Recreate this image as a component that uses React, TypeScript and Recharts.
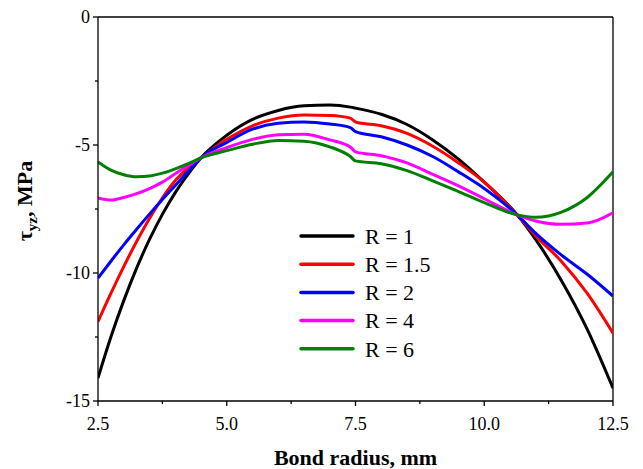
import { Legend, Line, LineChart, ReferenceLine, XAxis, YAxis } from "recharts";

const FONT = '"Liberation Serif", "Times New Roman", serif';

// bond radius, mm
const radius = [2.5, 2.75, 3.0, 3.25, 3.5, 3.75, 4.0, 4.25, 4.5, 5.0, 5.5, 6.0, 6.5, 7.0, 7.4, 7.5, 8.0, 8.5, 9.0, 9.5, 10.0, 10.64, 11.0, 11.5, 12.0, 12.5];

// tau_yz, MPa
const r1 = [-14.1, -12.5, -11.08, -9.81, -8.69, -7.71, -6.86, -6.14, -5.5, -4.62, -4.0, -3.65, -3.47, -3.44, -3.52, -3.56, -3.8, -4.2, -4.8, -5.55, -6.45, -7.73, -8.7, -10.3, -12.2, -14.5];
const r15 = [-11.9, -10.8, -9.75, -8.77, -7.87, -7.07, -6.39, -5.89, -5.5, -4.78, -4.25, -3.95, -3.83, -3.85, -3.95, -4.1, -4.25, -4.55, -5.05, -5.7, -6.45, -7.73, -8.55, -9.55, -10.8, -12.35];
const r2 = [-10.2, -9.54, -8.9, -8.29, -7.7, -7.13, -6.58, -6.03, -5.5, -4.9, -4.38, -4.15, -4.1, -4.18, -4.32, -4.48, -4.68, -5.0, -5.45, -6.05, -6.7, -7.73, -8.45, -9.3, -10.05, -10.9];
const r4 = [-7.07, -7.15, -7.05, -6.9, -6.7, -6.45, -6.12, -5.8, -5.5, -5.1, -4.78, -4.6, -4.58, -4.8, -5.08, -5.27, -5.42, -5.7, -6.15, -6.6, -7.1, -7.73, -7.97, -8.1, -8.05, -7.65];
const r6 = [-5.66, -5.98, -6.16, -6.24, -6.21, -6.1, -5.93, -5.73, -5.5, -5.22, -4.97, -4.82, -4.85, -5.07, -5.45, -5.62, -5.73, -6.0, -6.4, -6.82, -7.25, -7.73, -7.82, -7.62, -7.05, -6.05];

const xTicks = [2.5, 3.75, 5, 6.25, 7.5, 8.75, 10, 11.25, 12.5];
const yTicks = [-15, -12.5, -10, -7.5, -5, -2.5, 0];

const series = [
  { key: "r1", name: "R = 1", color: "#000000" },
  { key: "r15", name: "R = 1.5", color: "#ff0000" },
  { key: "r2", name: "R = 2", color: "#0000ff" },
  { key: "r4", name: "R = 4", color: "#ff00ff" },
  { key: "r6", name: "R = 6", color: "#008000" },
];

const data = radius.map((x, i) => ({ x, r1: r1[i], r15: r15[i], r2: r2[i], r4: r4[i], r6: r6[i] }));

function XTick({ x, y, payload }: any) {
  const major = Math.abs(payload.value / 2.5 - Math.round(payload.value / 2.5)) < 1e-6;
  return (
    <g>
      <line x1={x} x2={x} y1={y} y2={y + (major ? 5 : 3)} stroke="#000" strokeWidth={1.3} />
      {major && (
        <text x={x} y={y + 29} textAnchor="middle" fontFamily={FONT} fontSize={18} fill="#000">
          {payload.value.toFixed(1)}
        </text>
      )}
    </g>
  );
}

function YTick({ x, y, payload }: any) {
  const major = payload.value % 5 === 0;
  return (
    <g>
      <line x1={x} x2={x - (major ? 5 : 3)} y1={y} y2={y} stroke="#000" strokeWidth={1.3} />
      {major && (
        <text x={x - 8} y={y} dy="0.35em" textAnchor="end" fontFamily={FONT} fontSize={18} fill="#000">
          {payload.value}
        </text>
      )}
    </g>
  );
}

function YLabel() {
  return (
    <text x={32} y={201} transform="rotate(-90, 32, 201)" textAnchor="middle" fontFamily={FONT} fontWeight="bold" fontSize={22} fill="#000">
      <tspan>τ</tspan>
      <tspan fontSize={15} dy={5}>yz</tspan>
      <tspan dy={-5}>, MPa</tspan>
    </text>
  );
}

function XLabel() {
  return (
    <text x={355.5} y={465} textAnchor="middle" fontFamily={FONT} fontWeight="bold" fontSize={22} fill="#000">
      Bond radius, mm
    </text>
  );
}

function LegendBox() {
  return (
    <svg width={170} height={150}>
      {series.map((s, i) => (
        <g key={s.key}>
          <line x1={6} x2={58} y1={16 + i * 28.2} y2={16 + i * 28.2} stroke={s.color} strokeWidth={3.5} strokeLinecap="round" />
          <text x={70} y={16 + i * 28.2} dy="0.35em" fontFamily={FONT} fontSize={22} fill="#000">
            {s.name}
          </text>
        </g>
      ))}
    </svg>
  );
}

export default function App() {
  return (
    <div style={{ position: "absolute", left: 0, top: 0, background: "#fff" }}>
      <LineChart width={643} height={469} data={data} margin={{ top: 17, right: 30, bottom: 0, left: 0 }}>
        <XAxis
          dataKey="x"
          type="number"
          domain={[2.5, 12.5]}
          ticks={xTicks}
          interval={0}
          height={68}
          tickSize={0}
          tickMargin={0}
          tick={<XTick />}
          stroke="#000"
          strokeWidth={1.3}
          label={<XLabel />}
          allowDataOverflow
        />
        <YAxis
          type="number"
          domain={[-15, 0]}
          ticks={yTicks}
          interval={0}
          width={98}
          tickSize={0}
          tickMargin={0}
          tick={<YTick />}
          stroke="#000"
          strokeWidth={1.3}
          label={<YLabel />}
          allowDataOverflow
        />
        <ReferenceLine y={0} stroke="#000" strokeWidth={1.3} />
        <ReferenceLine x={12.5} stroke="#000" strokeWidth={1.3} />
        <Legend layout="vertical" align="center" verticalAlign="middle" wrapperStyle={{ left: 295, top: 220 }} content={<LegendBox />} />
        {series.map((s) => (
          <Line key={s.key} dataKey={s.key} name={s.name} type="monotone" stroke={s.color} strokeWidth={3} dot={false} isAnimationActive={false} />
        ))}
      </LineChart>
    </div>
  );
}
